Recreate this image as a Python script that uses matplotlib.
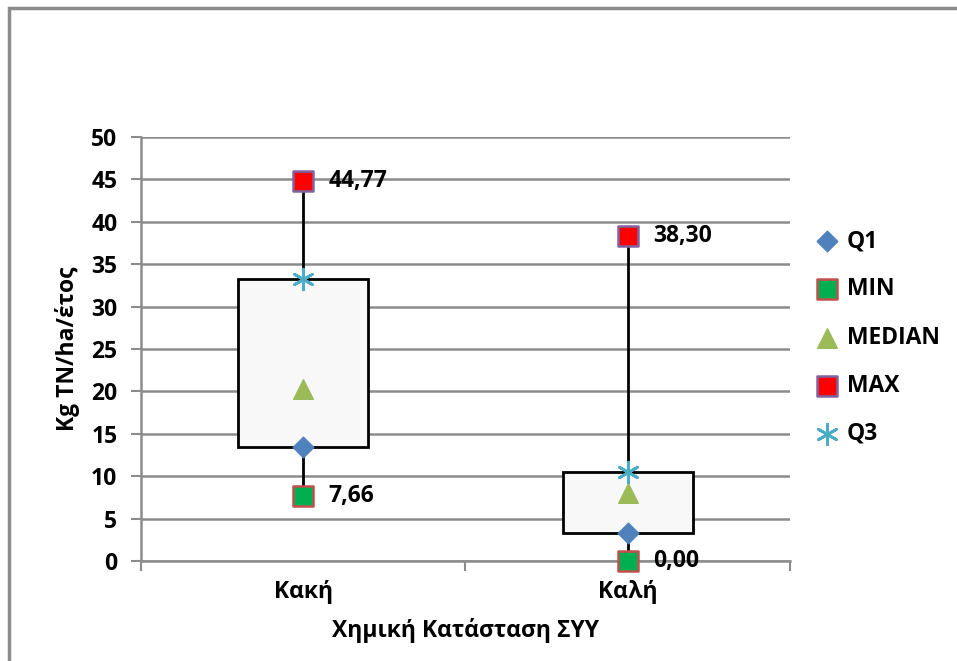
import matplotlib.pyplot as plt
from matplotlib.patches import Rectangle
import numpy as np

plt.rcParams['font.family'] = ['Open Sans', 'DejaVu Sans']
plt.rcParams['font.weight'] = 'bold'

# --- datos ---
categorias = ['Κακή', 'Καλή']
q1 = [13.4, 3.3]
minimo = [7.66, 0.00]
mediana = [20.3, 8.0]
maximo = [44.77, 38.30]
q3 = [33.3, 10.5]

fig = plt.figure(figsize=(9.57, 6.61), dpi=100)
ax = fig.add_axes([0.1473, 0.1513, 0.6782, 0.6414])

# marco exterior del grafico
fig.patches.append(Rectangle((9 / 957, -0.1), 1.1, 1 - 8 / 661 + 0.1,
                             transform=fig.transFigure, fill=False,
                             edgecolor='#8c8c8c', linewidth=2.5, zorder=0))

pos = np.arange(len(categorias))
ancho = 0.4
gris = '#8c8c8c'
fs = 16.5

# cajas Q1-Q3 y bigotes
for i in pos:
    ax.add_patch(Rectangle((i - ancho / 2, q1[i]), ancho, q3[i] - q1[i],
                           facecolor='#f8f8f8', edgecolor='black', linewidth=2, zorder=3))
    ax.plot([i, i], [minimo[i], q1[i]], color='black', linewidth=2, zorder=2)
    ax.plot([i, i], [q3[i], maximo[i]], color='black', linewidth=2, zorder=2)

ax.scatter(pos, q1, marker='D', s=110, color='#4f81bd', zorder=5, label='Q1', clip_on=False)
ax.scatter(pos, minimo, marker='s', s=190, facecolor='#00b050', edgecolor='#c0504d',
           linewidths=1.8, zorder=5, label='MIN', clip_on=False)
ax.scatter(pos, mediana, marker='^', s=200, color='#9bbb59', zorder=5, label='MEDIAN',
           clip_on=False)
ax.scatter(pos, maximo, marker='s', s=190, facecolor='#ff0000', edgecolor='#8064a2',
           linewidths=1.8, zorder=5, label='MAX', clip_on=False)
ax.scatter(pos, q3, marker=(6, 2, 0), s=220, color='#4bacc6', linewidths=2,
           zorder=5, label='Q3', clip_on=False)

# etiquetas de minimo y maximo
for i in pos:
    for v in (minimo[i], maximo[i]):
        ax.annotate(f'{v:.2f}'.replace('.', ','), (i, v), xytext=(18, 0),
                    textcoords='offset points', va='center', ha='left',
                    fontsize=fs, fontweight='bold', zorder=6)

ax.set_xlim(-0.5, 1.5)
ax.set_ylim(0, 50)
ax.set_yticks(range(0, 51, 5))
ax.set_xticks([-0.5, 0.5, 1.5])
ax.set_xticklabels([])
ax.set_xticks(pos, minor=True)
ax.set_xticklabels(categorias, minor=True)
ax.tick_params(axis='x', which='minor', length=0, pad=14, labelsize=fs)
ax.tick_params(axis='x', which='major', length=7, width=1.5, color=gris, direction='out')
ax.tick_params(axis='y', length=7, width=1.5, color=gris, labelsize=fs, pad=10)

ax.yaxis.grid(True, color=gris, linewidth=1.8)
ax.set_axisbelow(True)
for lado in ['top', 'right']:
    ax.spines[lado].set_visible(False)
for lado in ['left', 'bottom']:
    ax.spines[lado].set_color(gris)
    ax.spines[lado].set_linewidth(1.8)

ax.set_ylabel('Kg TN/ha/έτος', fontsize=fs, fontweight='bold', labelpad=8)
ax.set_xlabel('Χημική Κατάσταση ΣΥΥ', fontsize=fs, fontweight='bold', labelpad=10)

ax.legend(loc='center left', bbox_to_anchor=(1.008, 0.527), frameon=False,
          labelspacing=1.05, handletextpad=0.35, handlelength=1.0,
          prop={'weight': 'bold', 'size': fs})

fig.savefig('out.png', dpi=100)
